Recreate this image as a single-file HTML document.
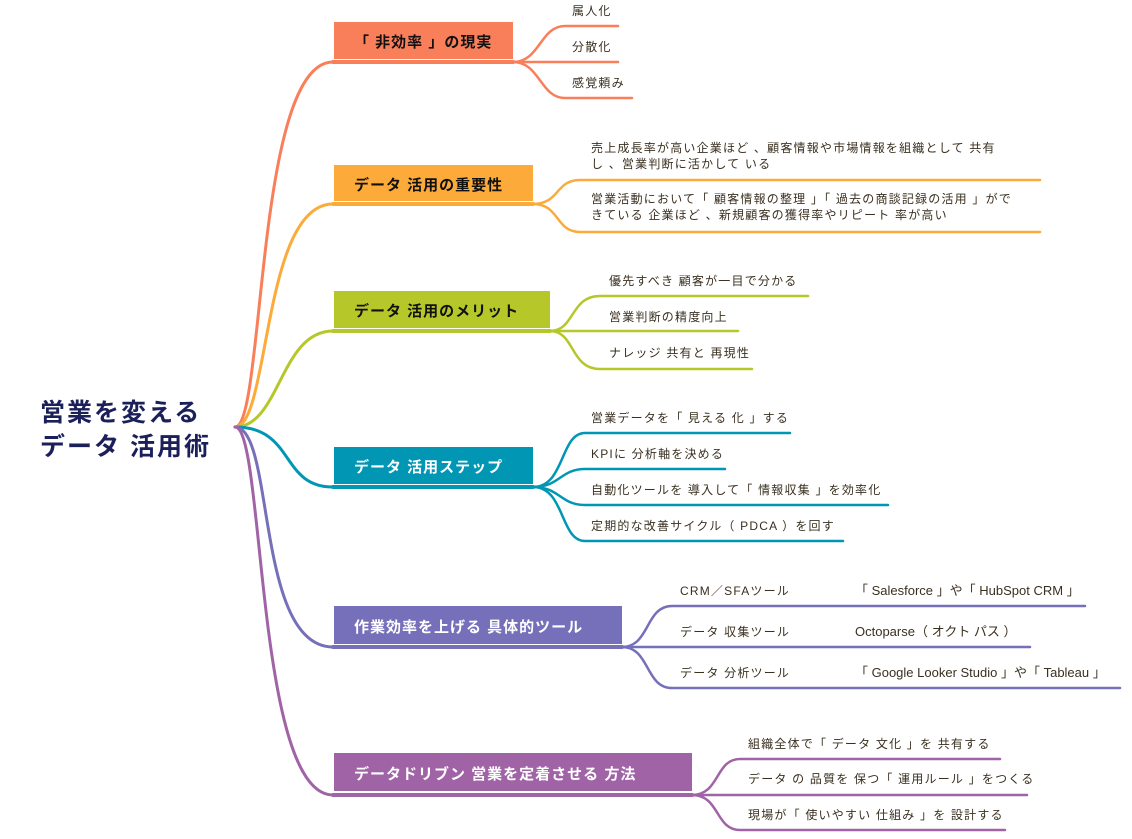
<!DOCTYPE html>
<html><head><meta charset="utf-8"><style>
html,body{margin:0;padding:0;background:#fff;}
svg{display:block;}
text{font-family:"Liberation Sans","Noto Sans CJK JP",sans-serif;}
.c{font-size:12px;fill:#3a3020;letter-spacing:1.2px;}
.t{font-size:13px;fill:#3a3020;letter-spacing:0;}
.b{font-size:15px;font-weight:bold;letter-spacing:1px;}
</style></head><body>
<svg width="1132" height="839" viewBox="0 0 1132 839" xmlns="http://www.w3.org/2000/svg">
<g fill="none" stroke-linecap="round" stroke-width="3">
<path d="M235 427 C265 427 255 62 333 62" stroke="#f97f5a"/>
<path d="M235 427 C270 427 262 204 333 204" stroke="#fcaa3a"/>
<path d="M235 427 C280 427 280 331 333 331" stroke="#b6c72a"/>
<path d="M235 427 C295 427 280 487 333 487" stroke="#0096b4"/>
<path d="M235 427 C275 427 255 647 333 647" stroke="#7570b9"/>
<path d="M235 427 C265 427 255 795 333 795" stroke="#a064a6"/>
<path d="M333 62 H513" stroke="#f97f5a" stroke-width="4"/>
<path d="M333 204 H533" stroke="#fcaa3a" stroke-width="4"/>
<path d="M333 331 H550" stroke="#b6c72a" stroke-width="4"/>
<path d="M333 487 H533" stroke="#0096b4" stroke-width="4"/>
<path d="M333 647 H622" stroke="#7570b9" stroke-width="4"/>
<path d="M333 795 H692" stroke="#a064a6" stroke-width="4"/>
<g stroke="#f97f5a" stroke-width="2.5">
<path d="M513 62 C540 62 540 26 565 26 H618"/>
<path d="M513 62 H618"/>
<path d="M513 62 C540 62 540 98 565 98 H632"/>
</g>
<g stroke="#fcaa3a" stroke-width="2.5">
<path d="M533 204 C560 204 555 180 580 180 H1040"/>
<path d="M533 204 C560 204 555 232 580 232 H1040"/>
</g>
<g stroke="#b6c72a" stroke-width="2.5">
<path d="M550 331 C575 331 570 296 600 296 H808"/>
<path d="M550 331 H738"/>
<path d="M550 331 C575 331 570 369 600 369 H752"/>
</g>
<g stroke="#0096b4" stroke-width="2.5">
<path d="M533 487 C565 487 560 433 585 433 H790"/>
<path d="M533 487 C560 487 560 469 585 469 H725"/>
<path d="M533 487 C560 487 560 505 585 505 H888"/>
<path d="M533 487 C565 487 560 541 585 541 H843"/>
</g>
<g stroke="#7570b9" stroke-width="2.5">
<path d="M622 647 C650 647 645 606 672 606 H1085"/>
<path d="M622 647 H1030"/>
<path d="M622 647 C650 647 645 688 672 688 H1120"/>
</g>
<g stroke="#a064a6" stroke-width="2.5">
<path d="M692 795 C720 795 715 759 740 759 H1000"/>
<path d="M692 795 H1027"/>
<path d="M692 795 C720 795 715 830 740 830 H1005"/>
</g>
</g>
<rect x="334" y="22" width="179" height="37" fill="#f97f5a"/>
<rect x="334" y="165" width="199" height="36" fill="#fcaa3a"/>
<rect x="334" y="291" width="216" height="37" fill="#b6c72a"/>
<rect x="334" y="447" width="199" height="37" fill="#0096b4"/>
<rect x="334" y="606" width="288" height="38" fill="#7570b9"/>
<rect x="334" y="753" width="358" height="38" fill="#a064a6"/>
<text class="b" x="354" y="47" fill="#111">「 非効率 」の現実</text>
<text class="b" x="354" y="190" fill="#111">データ 活用の重要性</text>
<text class="b" x="354" y="316" fill="#111">データ 活用のメリット</text>
<text class="b" x="354" y="472" fill="#fff">データ 活用ステップ</text>
<text class="b" x="354" y="632" fill="#fff">作業効率を上げる 具体的ツール</text>
<text class="b" x="354" y="779" fill="#fff">データドリブン 営業を定着させる 方法</text>
<text x="40" y="421" font-size="25" font-weight="bold" fill="#1b1f5a" letter-spacing="2">営業を変える</text>
<text x="40" y="455" font-size="25" font-weight="bold" fill="#1b1f5a" letter-spacing="2">データ 活用術</text>
<text class="c" x="572" y="15">属人化</text>
<text class="c" x="572" y="51">分散化</text>
<text class="c" x="572" y="87">感覚頼み</text>
<text class="c" x="591" y="152">売上成長率が高い企業ほど 、顧客情報や市場情報を組織として 共有</text>
<text class="c" x="591" y="168">し 、営業判断に活かして いる</text>
<text class="c" x="591" y="203">営業活動において「 顧客情報の整理 」「 過去の商談記録の活用 」がで</text>
<text class="c" x="591" y="219">きている 企業ほど 、新規顧客の獲得率やリピート 率が高い</text>
<text class="c" x="609" y="285">優先すべき 顧客が一目で分かる</text>
<text class="c" x="609" y="321">営業判断の精度向上</text>
<text class="c" x="609" y="357">ナレッジ 共有と 再現性</text>
<text class="c" x="591" y="422">営業データを「 見える 化 」する</text>
<text class="c" x="591" y="458">KPIに 分析軸を決める</text>
<text class="c" x="591" y="494">自動化ツールを 導入して「 情報収集 」を効率化</text>
<text class="c" x="591" y="530">定期的な改善サイクル（ PDCA ）を回す</text>
<text class="c" x="680" y="595">CRM／SFAツール</text>
<text class="c" x="680" y="636">データ 収集ツール</text>
<text class="c" x="680" y="677">データ 分析ツール</text>
<text class="t" x="855" y="595">「 Salesforce 」や「 HubSpot CRM 」</text>
<text class="t" x="855" y="636">Octoparse（ オクト パス ）</text>
<text class="t" x="855" y="677">「 Google Looker Studio 」や「 Tableau 」</text>
<text class="c" x="748" y="748">組織全体で「 データ 文化 」を 共有する</text>
<text class="c" x="748" y="783">データ の 品質を 保つ「 運用ルール 」をつくる</text>
<text class="c" x="748" y="819">現場が「 使いやすい 仕組み 」を 設計する</text>
</svg>
</body></html>
